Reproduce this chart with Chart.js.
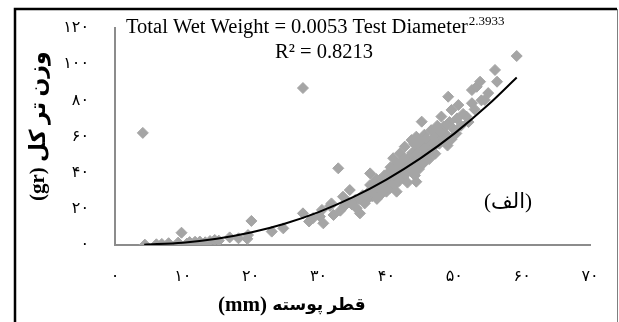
<!DOCTYPE html>
<html>
<head>
<meta charset="utf-8">
<script src="https://cdn.jsdelivr.net/npm/chart.js@4.4.0/dist/chart.umd.min.js"></script>
<style>
  body { margin: 0; background: #fff; }
  canvas { display: block; }
</style>
</head>
<body>
<canvas id="chart" width="619" height="322"></canvas>
<script>
// shell diameter (mm) and total wet weight (gr)
const diameter = [
  4.1, 4.4, 6.1, 6.9, 7.9, 9.3, 9.8, 10.6, 11.0, 11.8, 12.5, 13.3, 14.0, 14.7, 15.3,
  16.9, 18.2, 19.5, 19.6, 20.1, 23.1, 24.8, 27.7, 27.7,
  28.6, 29.2, 30.2, 30.5, 30.7, 31.7, 31.9, 32.2, 32.9, 33.2, 33.6, 33.8, 34.3, 34.6,
  34.9, 35.4, 35.6, 36.1, 36.5, 36.8,
  37.1, 37.3, 37.6, 37.6, 37.9, 38.1, 38.3, 38.6, 38.8, 39.0, 39.2, 39.5, 39.7, 40.0,
  40.1, 40.3, 40.5, 40.7, 41.0, 41.0, 41.2, 41.5, 41.5, 41.6, 41.9, 42.0, 42.2, 42.4,
  42.5, 42.7, 42.9, 43.0, 43.1, 43.3, 43.5, 43.7, 43.8, 44.0, 44.2, 44.4, 44.4, 44.4,
  44.6, 44.8, 45.0, 45.2, 45.2, 45.4, 45.6, 45.9, 46.1, 46.3, 46.6, 46.8, 47.0, 47.2,
  47.5, 47.6, 47.8, 48.1, 48.2, 48.4, 48.7, 49.0, 49.1, 49.3, 49.6, 49.6, 49.9, 50.3,
  50.4, 50.6,
  51.0, 51.3, 51.8, 52.1, 52.6, 52.6, 53.0, 53.3, 53.8, 54.0, 54.5, 55.0, 56.0, 56.3, 59.2,
  36.0, 37.0, 38.0, 39.0, 40.2, 41.3, 42.3, 43.4, 44.5, 45.6, 46.7, 47.9, 38.5, 39.8,
  41.8, 42.8, 43.9, 45.0, 46.0, 47.1, 48.5, 40.6, 39.4, 42.6, 44.1, 45.8, 47.4, 48.9
];
const weight = [
  62.0, 0.2, 0.4, 0.6, 1.0, 1.3, 6.8, 0.8, 1.6, 1.8, 1.9, 1.5, 2.2, 2.8, 2.4,
  4.2, 3.7, 3.4, 5.5, 13.3, 7.4, 9.2, 17.5, 86.8,
  13.0, 14.9, 15.7, 19.4, 12.0, 21.6, 23.0, 16.6, 42.4, 19.0, 26.7, 21.5, 24.0, 30.4,
  22.5, 24.9, 20.3, 17.5, 27.5, 23.0,
  24.9, 29.0, 33.2, 39.6, 27.0, 34.0, 30.5, 25.5, 31.5, 36.0, 28.0, 32.5, 38.5, 29.5,
  34.5, 40.0, 31.4, 36.5, 48.0, 42.5, 33.0, 29.5, 45.0, 38.5, 35.5, 50.7, 42.0, 46.5,
  37.0, 54.4, 40.0, 43.3, 34.5, 48.5, 41.5, 58.0, 51.0, 44.5, 38.5, 35.0, 47.5, 59.9,
  53.5, 42.0, 56.5, 68.2, 49.0, 45.0, 61.0, 52.0, 57.5, 47.5, 63.5, 54.5, 59.5, 50.5,
  66.0, 62.0, 56.0, 71.0, 59.0, 65.4, 61.5, 55.0, 82.0, 68.0, 74.7, 58.5, 64.0, 61.7,
  70.0, 77.4,
  66.0, 72.5, 71.0, 68.0, 78.4, 85.7, 75.0, 87.5, 90.3, 80.0, 80.2, 84.0, 96.8, 90.3, 104.5,
  25.5, 27.5, 29.0, 33.5, 35.5, 40.0, 44.0, 45.5, 50.5, 53.5, 58.0, 62.5, 36.5, 36.0,
  44.5, 39.0, 42.0, 47.0, 50.0, 55.0, 58.5, 43.0, 29.0, 48.0, 56.0, 59.0, 64.5, 66.5
];

// power trendline
const trendDiameter = [4.3, 10, 15, 20, 25, 30, 35, 40, 45, 50, 55, 59.2];
const trendWeight = [0.17, 1.31, 3.46, 6.89, 11.76, 18.2, 26.3, 36.2, 47.9, 61.6, 77.5, 92.6];

const equationText = 'Total Wet Weight = 0.0053 Test Diameter';
const equationPower = '2.3933';
const rSquaredText = 'R² = 0.8213';
const xTitle = ['(mm)', 'قطر پوسته'];
const yTitle = ['(gr)', 'وزن تر کل'];
const panelLabel = '(الف)';

const faDigits = '۰۱۲۳۴۵۶۷۸۹';
function toPersian(v) {
  return String(v).replace(/\d/g, (d) => faDigits[d]);
}

const points = diameter.map((x, i) => ({ x, y: weight[i] }));
const trend = trendDiameter.map((x, i) => ({ x, y: trendWeight[i] }));

const serif = "'Liberation Serif', 'Times New Roman', 'DejaVu Sans', serif";

// unit in Times, Persian words after it (Persian glyphs come from a wider fallback font)
function drawTitle(ctx, parts, x, y, faSize) {
  ctx.textAlign = 'left';
  ctx.textBaseline = 'middle';
  ctx.font = 'bold 21px ' + serif;
  ctx.fillText(parts[0], x, y);
  const w = ctx.measureText(parts[0] + ' ').width;
  ctx.font = 'bold ' + faSize + 'px ' + serif;
  ctx.fillText(parts[1], x + w, y);
}

const annotations = {
  id: 'annotations',
  beforeDraw(chart) {
    const ctx = chart.ctx;
    ctx.save();
    ctx.fillStyle = '#fff';
    ctx.fillRect(0, 0, chart.width, chart.height);
    ctx.restore();
  },
  afterDraw(chart) {
    const ctx = chart.ctx;
    ctx.save();
    // outer frame
    ctx.strokeStyle = '#000';
    ctx.lineWidth = 2.5;
    ctx.beginPath();
    ctx.moveTo(15, 330);
    ctx.lineTo(15, 9);
    ctx.lineTo(617, 9);
    ctx.stroke();
    ctx.strokeStyle = '#7f7f7f';
    ctx.lineWidth = 1;
    ctx.beginPath();
    ctx.moveTo(617.5, 9);
    ctx.lineTo(617.5, 330);
    ctx.stroke();

    // trendline equation
    ctx.fillStyle = '#000';
    ctx.textBaseline = 'alphabetic';
    ctx.textAlign = 'left';
    ctx.font = '20.5px ' + serif;
    ctx.fillText(equationText, 126, 33);
    const w = ctx.measureText(equationText).width;
    ctx.font = '13px ' + serif;
    ctx.fillText(equationPower, 126 + w + 1, 25);
    ctx.font = '20.5px ' + serif;
    ctx.fillText(rSquaredText, 275, 58);

    // panel label
    ctx.textAlign = 'center';
    ctx.textBaseline = 'middle';
    ctx.font = '21px ' + serif;
    ctx.fillText(panelLabel, 508, 202);

    // axis titles
    drawTitle(ctx, xTitle, 218, 306, 17);
    ctx.save();
    ctx.translate(39, 201);
    ctx.rotate(-Math.PI / 2);
    drawTitle(ctx, yTitle, 0, 0, 22);
    ctx.restore();
    ctx.restore();
  }
};

new Chart(document.getElementById('chart'), {
  data: {
    datasets: [
      {
        type: 'line',
        data: trend,
        borderColor: '#000',
        borderWidth: 2,
        pointRadius: 0,
        fill: false,
        cubicInterpolationMode: 'monotone',
      },
      {
        type: 'scatter',
        data: points,
        pointStyle: 'rectRot',
        pointRadius: 5.5,
        backgroundColor: '#a5a5a5',
        borderColor: '#a5a5a5',
        borderWidth: 1,
      },
    ],
  },
  options: {
    responsive: false,
    animation: false,
    devicePixelRatio: 1,
    layout: { padding: { top: 28, right: 29, left: 0, bottom: 0 } },
    plugins: {
      legend: { display: false },
      tooltip: { enabled: false },
    },
    scales: {
      x: {
        type: 'linear',
        min: 0,
        max: 70,
        grid: {
          drawOnChartArea: false,
          drawTicks: true,
          tickLength: 20,
          tickColor: 'rgba(0,0,0,0)',
        },
        border: { display: true, color: '#8c8c8c', width: 2 },
        ticks: {
          stepSize: 10,
          padding: 2,
          color: '#000',
          font: { family: serif, size: 16 },
          callback: (v) => toPersian(v),
        },
        afterFit(scale) { scale.height = 77; },
      },
      y: {
        type: 'linear',
        min: 0,
        max: 120,
        grid: {
          drawOnChartArea: false,
          drawTicks: true,
          tickLength: 22,
          tickColor: 'rgba(0,0,0,0)',
        },
        border: { display: true, color: '#8c8c8c', width: 2 },
        ticks: {
          stepSize: 20,
          padding: 4,
          color: '#000',
          font: { family: serif, size: 16 },
          callback: (v) => toPersian(v),
        },
        afterFit(scale) { scale.width = 115; },
      },
    },
  },
  plugins: [annotations],
});
</script>
</body>
</html>
